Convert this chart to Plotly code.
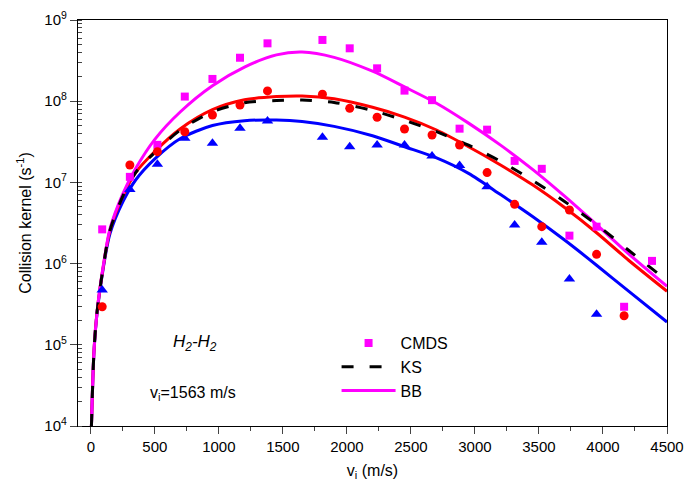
import plotly.graph_objects as go

# ---- data ----
# smooth model curves (v_i in m/s, collision kernel in s^-1)
curve_v = [5, 25, 50, 100, 150, 250, 350, 500, 700, 950, 1200, 1450, 1650,
           1900, 2200, 2450, 2700, 2950, 3200, 3450, 3700, 3950, 4200, 4500]
bb_curve = [1.0e4, 8.5e4, 2.63e5, 1.0e6, 2.69e6, 7.24e6, 1.48e7, 3.39e7, 7.41e7,
            1.55e8, 2.63e8, 3.72e8, 4.03e8, 3.47e8, 2.34e8, 1.50e8, 9.44e7,
            5.37e7, 2.88e7, 1.445e7, 6.76e6, 3.02e6, 1.32e6, 5.25e5]
ks_curve = [1.0e4, 8.5e4, 2.63e5, 9.77e5, 2.57e6, 6.76e6, 1.32e7, 2.34e7, 4.42e7,
            7.41e7, 9.55e7, 1.02e8, 1.035e8, 9.66e7, 7.67e7, 5.82e7, 4.21e7,
            2.88e7, 1.82e7, 1.06e7, 5.82e6, 3.02e6, 1.46e6, 6.17e5]
red_curve = [1.0e4, 8.5e4, 2.63e5, 9.77e5, 2.57e6, 6.76e6, 1.32e7, 2.40e7, 4.57e7,
             7.85e7, 1.04e8, 1.14e8, 1.16e8, 1.07e8, 8.41e7, 6.38e7, 4.42e7,
             2.75e7, 1.64e7, 9.33e6, 4.90e6, 2.40e6, 1.10e6, 4.57e5]
blue_curve = [1.0e4, 8.3e4, 2.57e5, 9.33e5, 2.34e6, 5.75e6, 1.07e7, 1.95e7, 3.47e7,
              5.01e7, 5.75e7, 5.86e7, 5.62e7, 4.90e7, 3.76e7, 2.75e7, 2.0e7,
              1.29e7, 7.08e6, 3.80e6, 1.95e6, 9.55e5, 4.57e5, 1.91e5]

# simulation points
pts_v = [89, 305, 520, 734, 950, 1165, 1380, 1809, 2022, 2236, 2450, 2665,
         2880, 3095, 3310, 3522, 3738, 3950, 4165, 4383]
cmds_pts = [2.64e6, 1.17e7, 2.9e7, 1.14e8, 1.88e8, 3.43e8, 5.16e8, 5.68e8, 4.48e8,
            2.54e8, 1.35e8, 1.03e8, 4.59e7, 4.46e7, 1.84e7, 1.47e7, 2.21e6,
            2.85e6, 2.94e5, 1.08e6]
red_pts = [2.94e5, 1.64e7, 2.39e7, 4.2e7, 6.76e7, 8.98e7, 1.34e8, 1.22e8, 8.17e7,
           6.34e7, 4.55e7, 3.84e7, 2.89e7, 1.32e7, 5.37e6, 2.85e6, 4.57e6,
           1.3e6, 2.28e5]
blue_pts = [4.73e5, 8.2e6, 1.67e7, 3.49e7, 3.03e7, 4.63e7, 5.7e7, 3.59e7, 2.75e7,
            2.89e7, 2.89e7, 2.11e7, 1.61e7, 8.85e6, 2.99e6, 1.83e6, 6.46e5, 2.38e5]

y_tickvals = [1e4, 1e5, 1e6, 1e7, 1e8, 1e9]
y_ticktext = ["10<sup>4</sup>", "10<sup>5</sup>", "10<sup>6</sup>",
              "10<sup>7</sup>", "10<sup>8</sup>", "10<sup>9</sup>"]
x_tickvals = [0, 500, 1000, 1500, 2000, 2500, 3000, 3500, 4000, 4500]

MAG = "#FF00FF"
RED = "#FF0000"
BLUE = "#0000FF"
FONT = "Arial, Liberation Sans, sans-serif"

fig = go.Figure()

# lines
fig.add_trace(go.Scatter(x=curve_v, y=blue_curve, mode="lines", line=dict(color=BLUE, width=3, shape="spline", smoothing=0.8), showlegend=False))
fig.add_trace(go.Scatter(x=curve_v, y=red_curve, mode="lines", line=dict(color=RED, width=3, shape="spline", smoothing=0.8), showlegend=False))
fig.add_trace(go.Scatter(x=curve_v, y=bb_curve, mode="lines", name="BB", line=dict(color=MAG, width=3, shape="spline", smoothing=0.8), legendrank=3))
fig.add_trace(go.Scatter(x=curve_v, y=ks_curve, mode="lines", name="KS", line=dict(color="black", width=3, dash="12px,16px", shape="spline", smoothing=0.8), legendrank=2))

# markers
fig.add_trace(go.Scatter(x=pts_v, y=cmds_pts, mode="markers", name="CMDS", marker=dict(symbol="square", size=8, color=MAG), legendrank=1))
fig.add_trace(go.Scatter(x=pts_v[:len(blue_pts)], y=blue_pts, mode="markers", marker=dict(symbol="triangle-up", size=10, color=BLUE), showlegend=False))
fig.add_trace(go.Scatter(x=pts_v[:len(red_pts)], y=red_pts, mode="markers", marker=dict(symbol="circle", size=9, color=RED), showlegend=False))

fig.update_layout(
    width=685, height=481,
    margin=dict(l=77.5, r=18, t=20, b=55),
    paper_bgcolor="white", plot_bgcolor="white",
    font=dict(family=FONT, size=15, color="black"),
    legend=dict(x=0.439, y=0.246, xanchor="left", yanchor="top",
                bgcolor="rgba(0,0,0,0)", font=dict(size=16),
                itemwidth=54, tracegroupgap=0),
    xaxis=dict(range=[-100, 4500], tickvals=x_tickvals, ticks="outside", ticklen=7,
               tickwidth=1.2, showline=True, linecolor="black", linewidth=1.3,
               mirror=True, showgrid=False, zeroline=False, automargin=False,
               minor=dict(ticks="outside", ticklen=4, dtick=250, tickwidth=1, showgrid=False),
               title=dict(text="v<sub>i</sub> (m/s)", font=dict(size=16), standoff=10),
               tickfont=dict(size=15)),
    yaxis=dict(type="log", range=[4, 9], tickvals=y_tickvals, ticktext=y_ticktext,
               ticks="outside", ticklen=7, tickwidth=1.2, showline=True,
               linecolor="black", linewidth=1.3, mirror=True, showgrid=False,
               automargin=False,
               minor=dict(ticks="inside", ticklen=4, dtick="D1", tickwidth=1, showgrid=False),
               title=dict(text="Collision kernel (s<sup>-1</sup>)", font=dict(size=16), standoff=8),
               tickfont=dict(size=15)),
    yaxis2=dict(type="log", range=[4, 9], overlaying="y", side="right",
                showticklabels=False, ticks="inside", ticklen=7, tickwidth=1.2,
                tickvals=y_tickvals, showgrid=False, showline=False, zeroline=False,
                automargin=False,
                minor=dict(ticks="inside", ticklen=4, dtick="D1", tickwidth=1, showgrid=False)),
    annotations=[
        dict(text="<i>H<sub>2</sub>-H<sub>2</sub></i>", x=0.198, y=0.204,
             xref="paper", yref="paper", showarrow=False, font=dict(size=17),
             xanchor="center", yanchor="middle"),
        dict(text="v<sub>i</sub>=1563 m/s", x=0.118, y=0.081,
             xref="paper", yref="paper", showarrow=False, font=dict(size=16),
             xanchor="left", yanchor="middle"),
    ],
)

fig.write_html("out.html", config={"displayModeBar": False},
               post_script="document.body.style.margin='0';document.body.style.overflow='hidden';")
